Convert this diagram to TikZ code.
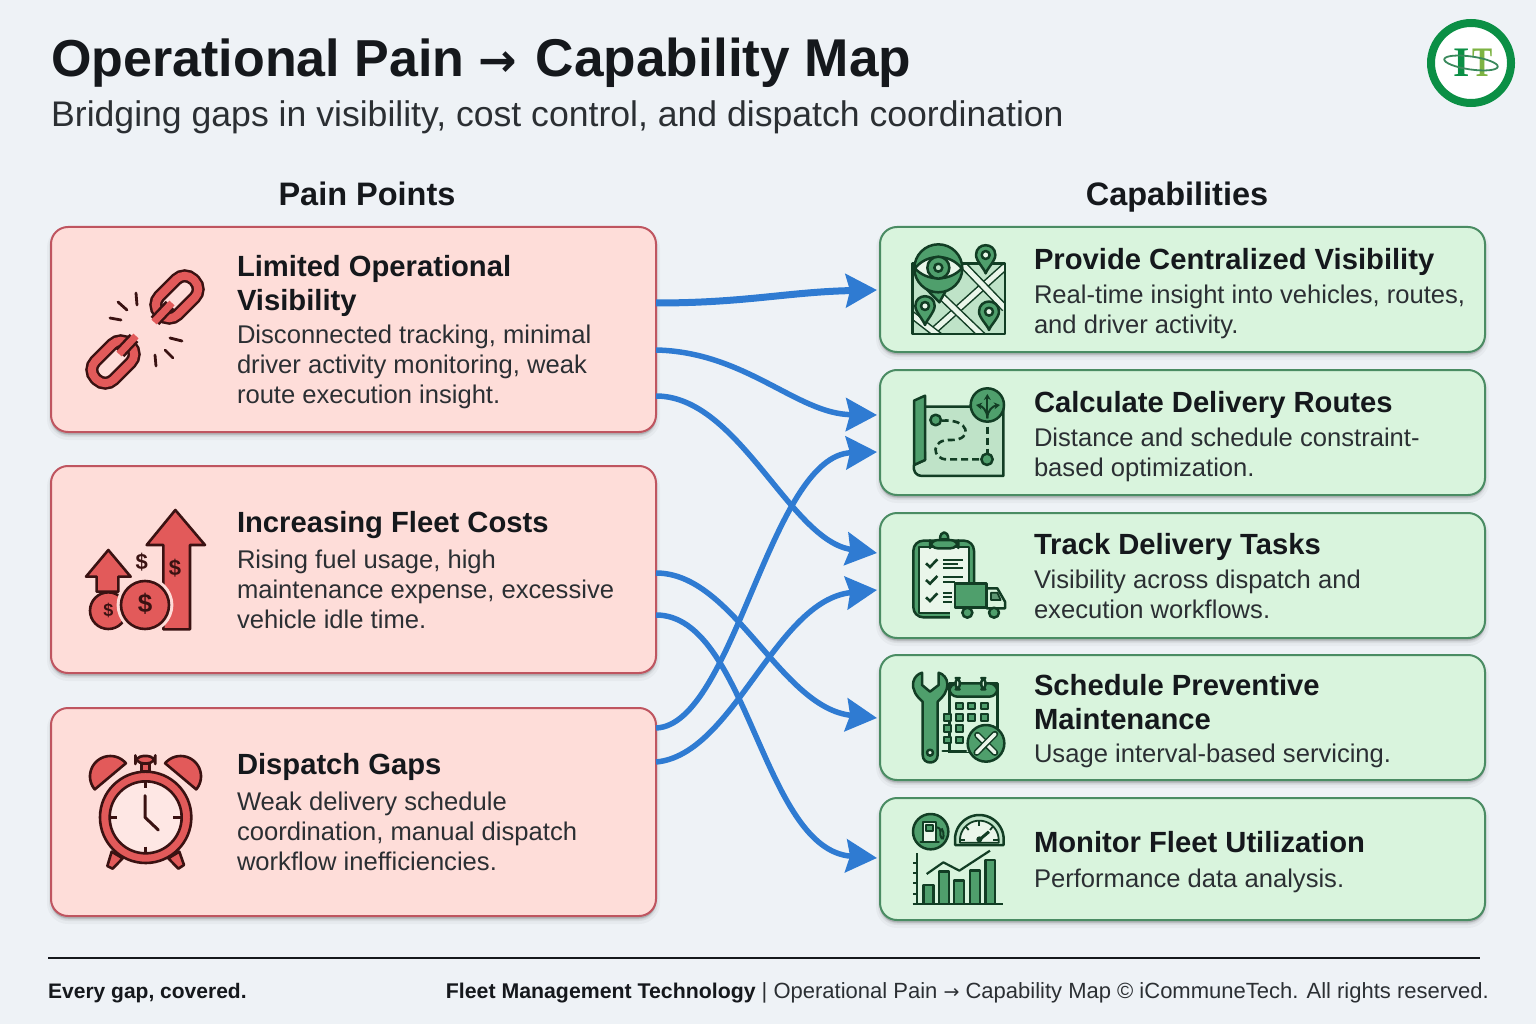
\documentclass[tikz,border=0pt]{standalone}
\usepackage{fontspec}
\setmainfont{Liberation Sans}
\newfontfamily\logofont{Liberation Serif}
\newfontfamily\arrowfont{DejaVu Sans}
\usetikzlibrary{arrows.meta,calc}
\definecolor{bgc}{HTML}{EEF2F6}
\definecolor{painfill}{HTML}{FEDDD9}
\definecolor{painline}{HTML}{BF5560}
\definecolor{capfill}{HTML}{D9F4DD}
\definecolor{capline}{HTML}{4A8C63}
\definecolor{flowc}{HTML}{2F7BD2}
\definecolor{inkd}{HTML}{15181C}
\definecolor{txtc}{HTML}{2B2F33}
\definecolor{rd}{HTML}{3A1212}
\definecolor{rf}{HTML}{E25A5A}
\definecolor{gd}{HTML}{123D24}
\definecolor{gf}{HTML}{4F9F6C}
\definecolor{gl}{HTML}{BFE3C8}
\definecolor{gp}{HTML}{EAF6EA}
\definecolor{logog}{HTML}{0B8F45}
\definecolor{logot}{HTML}{7DB343}
\tikzset{
 softshadow/.style={
  preaction={fill=black,fill opacity=.03,draw=black,draw opacity=.03,line width=8pt,transform canvas={yshift=-4pt}},
  preaction={fill=black,fill opacity=.05,draw=black,draw opacity=.05,line width=4pt,transform canvas={yshift=-3pt}},
  preaction={fill=black,fill opacity=.08,draw=black,draw opacity=.08,line width=1pt,transform canvas={yshift=-2pt}}},
 painbox/.style={softshadow,rectangle,rounded corners=17pt,draw=painline,fill=painfill,line width=2pt,minimum width=605pt,outer sep=0pt,inner sep=0pt},
 capbox/.style={softshadow,rectangle,rounded corners=17pt,draw=capline,fill=capfill,line width=2pt,minimum width=605pt,outer sep=0pt,inner sep=0pt},
 flow/.style={draw=flowc,line width=5.5pt,-{Stealth[length=31pt,width=33pt,inset=4pt]}},
 ttl/.style={anchor=north west,align=left,inner sep=0pt,outer sep=0pt,text=inkd,font=\fontsize{29.2}{34}\selectfont\bfseries},
 bdy/.style={anchor=north west,align=left,inner sep=0pt,outer sep=0pt,text=txtc,font=\fontsize{25.6}{30}\selectfont},
 hdr/.style={anchor=base,inner sep=0pt,text=inkd,font=\fontsize{32.5}{36}\selectfont\bfseries},
 zm/.style 2 args={shift={(#1,#2)},x=0.33333pt,y=-0.33333pt},
 ro/.style={draw=rd,line width=2.6pt,line join=round,line cap=round},
 go/.style={draw=gd,line width=2.5pt,line join=round,line cap=round},
 gthin/.style={draw=gd,line width=1.8pt,line join=round,line cap=round},
 money/.style={inner sep=0pt,font=\fontsize{#1}{#1}\selectfont\bfseries,text=rd},
 money/.default=22
}
\begin{document}
\begin{tikzpicture}[x=1pt,y=-1pt]
\useasboundingbox (0,0) rectangle (1536,1024);
\fill[bgc] (0,0) rectangle (1536,1024);

% heading
\node[anchor=base west,inner sep=0pt,text=inkd,font=\fontsize{52}{54}\selectfont\bfseries] (title) at (51,77) {Operational Pain {\arrowfont\fontsize{46}{46}\selectfont→}\hspace{4pt} {\fontsize{53.2}{54}\selectfont Capability Map}};
\node[anchor=base west,inner sep=0pt,text=txtc,font=\fontsize{35.6}{38}\selectfont] (subtitle) at (51,127) {Bridging gaps in visibility, cost control, and dispatch coordination};
\node[hdr] (hpain) at (367,206) {Pain Points};
\node[hdr] (hcap) at (1177,206) {Capabilities};

% logo
\draw[logog,line width=8pt,fill=white] (1471,63) circle[radius=40];
\node[inner sep=0pt,text=logog,font=\fontsize{42}{42}\selectfont\logofont\bfseries] (logoi) at (1461.5,63) {I};
\node[inner sep=0pt,text=logot,font=\fontsize{42}{42}\selectfont\logofont\bfseries] (logotee) at (1483,63) {\scalebox{0.72}[1]{T}};
\draw[logog!60!gray,line width=1.8pt,rotate around={-8:(1471,63)}] (1471,63) ellipse[x radius=27,y radius=6.5];

% boxes
\node[painbox,minimum height=205pt] (p1) at (353.5,329.5) {};
\node[painbox,minimum height=207pt] (p2) at (353.5,569.5) {};
\node[painbox,minimum height=208pt] (p3) at (353.5,812) {};
\node[capbox,minimum height=125pt] (c1) at (1182.5,289.5) {};
\node[capbox,minimum height=125pt] (c2) at (1182.5,432.5) {};
\node[capbox,minimum height=125pt] (c3) at (1182.5,575.5) {};
\node[capbox,minimum height=125pt] (c4) at (1182.5,717.5) {};
\node[capbox,minimum height=122pt] (c5) at (1182.5,859) {};

% pain texts
\node[ttl] (p1t) at (237,255) {Limited Operational\\Visibility};
\node[bdy] (p1b) at (237,325) {Disconnected tracking, minimal\\driver activity monitoring, weak\\route execution insight.};
\node[ttl] (p2t) at (237,511) {Increasing Fleet Costs};
\node[bdy] (p2b) at (237,550) {Rising fuel usage, high\\maintenance expense, excessive\\vehicle idle time.};
\node[ttl] (p3t) at (237,753) {Dispatch Gaps};
\node[bdy] (p3b) at (237,792) {Weak delivery schedule\\coordination, manual dispatch\\workflow inefficiencies.};

% capability texts
\node[ttl] (c1t) at (1034,248) {Provide Centralized Visibility};
\node[bdy] (c1b) at (1034,285) {Real-time insight into vehicles, routes,\\and driver activity.};
\node[ttl] (c2t) at (1034,391) {Calculate Delivery Routes};
\node[bdy] (c2b) at (1034,428) {Distance and schedule constraint-\\based optimization.};
\node[ttl] (c3t) at (1034,533) {Track Delivery Tasks};
\node[bdy] (c3b) at (1034,570) {Visibility across dispatch and\\execution workflows.};
\node[ttl] (c4t) at (1034,674) {Schedule Preventive\\Maintenance};
\node[bdy] (c4b) at (1034,744) {Usage interval-based servicing.};
\node[ttl] (c5t) at (1034,831) {Monitor Fleet Utilization};
\node[bdy] (c5b) at (1034,869) {Performance data analysis.};

% connectors
\draw[flow,line width=7pt] ([yshift=26.5pt]p1.east) .. controls +(90,0) and +(-90,2) .. ([xshift=-3pt,yshift=-0.5pt]c1.west);
\draw[flow] ([yshift=-20.5pt]p1.east) .. controls +(90,2) and +(-80,-1) .. ([xshift=-3pt,yshift=17.5pt]c2.west);
\draw[flow] ([yshift=-66.5pt]p1.east) .. controls +(83,0) and +(-87,-12) .. ([xshift=-3pt,yshift=22.5pt]c3.west);
\draw[flow] ([yshift=-3.5pt]p2.east) .. controls +(78,0) and +(-97,-10) .. ([xshift=-3pt,yshift=-0.5pt]c4.west);
\draw[flow] ([yshift=-45.5pt]p2.east) .. controls +(92,0) and +(-115,-8) .. ([xshift=-3pt,yshift=1pt]c5.west);
\draw[flow] ([yshift=84pt]p3.east) .. controls +(78,-3) and +(-107,3) .. ([xshift=-3pt,yshift=-19.5pt]c2.west);
\draw[flow] ([yshift=50pt]p3.east) .. controls +(78,-7) and +(-102,10) .. ([xshift=-3pt,yshift=-14.5pt]c3.west);

% icon: broken chain
\foreach \cx/\cy in {177/297,113/362}{
 \begin{scope}[shift={(\cx,\cy)},rotate=45]
  \draw[rd,line width=13pt,rounded corners=12pt] (-24,-13) rectangle (24,13);
  \draw[rf,line width=8pt,rounded corners=12pt] (-24,-13) rectangle (24,13);
 \end{scope}}
\draw[rd,line width=12pt] (170,305)--(155,321);
\draw[rf,line width=7pt] (172,303)--(154,322);
\draw[rd,line width=12pt] (134,338)--(120,353);
\draw[rf,line width=7pt] (136,336)--(119,354);
\foreach \ax/\ay/\bx/\by in {136/293/137/305,118/302/127/310,110/318/121/320,170/338/182/341,165/350/173/358,155/355/156/366}
 \draw[rd,line width=2.8pt,line cap=round] (\ax,\ay)--(\bx,\by);

% icon: rising costs
\begin{scope}[zm={50}{480}]
 \draw[ro,fill=rf] (376,90)--(465,195)--(420,195)--(420,448)--(340,448)--(340,195)--(290,195)--cycle;
 \draw[ro,fill=rf] (175,210)--(242,290)--(205,290)--(205,335)--(140,335)--(140,290)--(108,290)--cycle;
 \draw[ro,fill=rf] (175,392) circle[radius=55];
 \fill[painfill] (285,375) circle[radius=85];
 \draw[ro,fill=rf] (285,375) circle[radius=72];
 \node[money=26] (d1) at (285,372) {\$};
 \node[money=18] (d2) at (175,392) {\$};
 \node[money=22] (d3) at (275,245) {\$};
 \node[money=22] (d4) at (375,265) {\$};
\end{scope}

% icon: alarm clock
\begin{scope}[zm={50}{730}]
 \draw[ro,fill=rf] plot[domain=0:180,samples=30] ({181+61*cos(\x+140)},{139+61*sin(\x+140)}) -- cycle;
 \draw[ro,fill=rf] plot[domain=0:180,samples=30] ({392+61*cos(\x-140)},{139+61*sin(\x-140)}) -- cycle;
 \draw[ro,fill=rf] (185,365)--(172,408)--(188,416)--(218,385)--cycle;
 \draw[ro,fill=rf] (388,365)--(402,405)--(385,416)--(355,385)--cycle;
 \draw[ro,fill=rf] (275,100) rectangle (298,125);
 \draw[ro,fill=rf,rounded corners=8pt] (256,78) rectangle (316,100);
 \draw[ro,fill=rf] (287,262) circle[radius=137];
 \draw[ro,fill=painfill!70!white] (287,262) circle[radius=108];
 \foreach \ax/\ay/\bx/\by in {287/155/287/175,287/350/287/370,180/262/202/262,370/262/392/262}
  \draw[rd,line width=2.6pt] (\ax,\ay)--(\bx,\by);
 \draw[rd,line width=3pt,line cap=round,line join=round] (285,197)--(285,262)--(325,300);
\end{scope}

% icon: map with eye
\begin{scope}[zm={890}{230}]
 \fill[gl] (68,100) rectangle (345,312);
 \begin{scope}
  \clip (68,100) rectangle (345,312);
  \foreach \ax/\ay/\bx/\by in {345/110/120/312,215/100/345/235,150/195/280/320,60/250/150/320}{
   \draw[gd,line width=8pt] (\ax,\ay)--(\bx,\by);
   \draw[gp,line width=5pt] (\ax,\ay)--(\bx,\by);}
 \end{scope}
 \draw[go] (68,312) rectangle (345,100);
 \foreach \cx/\cy/\r/\ty in {287/75/29/130,105/228/29/285,297/245/30/300}{
  \draw[go,fill=gf] (\cx-\r,\cy) .. controls (\cx-\r,\cy-1.35*\r) and (\cx+\r,\cy-1.35*\r) .. (\cx+\r,\cy) .. controls (\cx+\r,\cy+0.6*\r) and (\cx+5,\ty-15) .. (\cx,\ty) .. controls (\cx-5,\ty-15) and (\cx-\r,\cy+0.6*\r) .. (\cx-\r,\cy)--cycle;
  \draw[go,fill=gp] (\cx,\cy) circle[radius=12];}
 \draw[go,fill=gf] (110,178) -- (148,217) -- (170,178) -- cycle;
 \draw[go,fill=gf] (145,115) circle[radius=72];
 \draw[go,fill=gp] (75,115) .. controls (110,70) and (180,70) .. (215,115) .. controls (180,155) and (110,155) .. (75,115)--cycle;
 \draw[go,fill=gf] (145,113) circle[radius=33];
 \draw[go,fill=gl] (145,113) circle[radius=12];
\end{scope}

% icon: route map
\begin{scope}[zm={890}{230}]
 \draw[go,fill=gl] (100,530)--(340,530)--(340,738)--(95,738) .. controls (78,738) and (68,722) .. (72,705)--(105,690)--cycle;
 \draw[go,fill=gf] (72,705)--(72,512)--(105,497)--(105,690)--cycle;
 \draw[gd,line width=2.6pt,dash pattern=on 7pt off 4pt] (155,572) .. controls (240,565) and (250,630) .. (185,630) .. controls (120,625) and (125,690) .. (172,688) -- (272,688);
 \draw[gd,line width=2.6pt,dash pattern=on 7pt off 4pt] (292,590)--(292,668);
 \draw[go,fill=gf] (137,570) circle[radius=16];
 \draw[go,fill=gf] (291,688) circle[radius=17];
 \draw[go,fill=gf] (292,525) circle[radius=50];
 \draw[gd,line width=2pt,-{Stealth[length=6pt,width=7pt]}] (292,565)--(292,492);
 \draw[gd,line width=2pt,-{Stealth[length=6pt,width=7pt]}] (292,565) .. controls (292,540) and (275,528) .. (258,525);
 \draw[gd,line width=2pt,-{Stealth[length=6pt,width=7pt]}] (292,565) .. controls (292,540) and (309,528) .. (330,525);
\end{scope}

% icon: clipboard and truck
\begin{scope}[zm={890}{520}]
 \draw[go,fill=gf,rounded corners=10pt] (70,62) rectangle (252,292);
 \draw[gthin,fill=gp] (86,80) rectangle (238,278);
 \draw[go,fill=gf,rounded corners=8pt] (120,85)--(120,60)--(205,60)--(205,85)--cycle;
 \draw[go,fill=gf] (150,58) .. controls (150,30) and (175,30) .. (175,58)--cycle;
 \foreach \y in {130,180,232}{
  \draw[gd,line width=2.6pt] (108,\y)--(120,\y+11)--(142,\y-12);}
 \foreach \ax/\ay/\bx in {160/120/220,160/132/205,160/145/220,160/172/220,160/185/195,160/220/185,160/232/185,160/245/185}
  \draw[gd,line width=1.8pt] (\ax,\ay)--(\bx,\ay);
 \fill[capfill] (180,250) rectangle (255,296);
 \draw[go,fill=gf] (195,190) rectangle (290,263);
 \draw[go,fill=capfill] (290,205)--(322,205)--(345,245)--(345,265)--(290,265)--cycle;
 \draw[gthin,fill=gf!70!gray] (303,218)--(322,218)--(332,240)--(303,240)--cycle;
 \draw[go,fill=gf] (232,278) circle[radius=15];
 \draw[go,fill=gf] (312,278) circle[radius=15];
\end{scope}

% icon: wrench and calendar
\begin{scope}[zm={890}{520}]
 \draw[go,fill=capfill] (178,700)--(178,490)--(322,490)--(322,700)--cycle;
 \draw[go,fill=gf,rounded corners=8pt] (178,530)--(178,490)--(322,490)--(322,530)--cycle;
 \foreach \x in {203,280}{\draw[go,fill=capfill,rounded corners=4pt] (\x-6,474) rectangle (\x+6,508);}
 \foreach \x/\y in {208/558,245/558,283/558,172/592,208/592,245/592,283/592,172/625,208/625,172/660,208/660}
  \draw[gthin,fill=gf] (\x-11,\y-10) rectangle (\x+11,\y+10);
 \fill[capfill] (150,700) rectangle (240,720);
 \draw[go] (158,693)--(228,693);
 \draw[go,fill=gf] (98,545) .. controls (80,530) and (65,510) .. (70,485) .. controls (74,470) and (84,462) .. (96,458)--(96,495)--(120,515)--(146,495)--(146,458) .. controls (160,462) and (172,475) .. (172,492) .. controls (172,515) and (160,530) .. (143,545)--(143,705) .. controls (143,735) and (98,735) .. (98,705)--cycle;
 \draw[go,fill=gp] (120,698) circle[radius=9];
 \draw[go,fill=gf] (288,670) circle[radius=55];
 \draw[gd,line width=6.5pt,line cap=round] (262,645)--(315,698);
 \draw[gp,line width=3.5pt,line cap=round] (262,645)--(315,698);
 \draw[gd,line width=6.5pt,line cap=round] (315,642)--(260,698);
 \draw[gp,line width=3.5pt,line cap=round] (315,642)--(260,698);
\end{scope}

% icon: fleet utilization
\begin{scope}[zm={890}{800}]
 \draw[go,fill=gf] (122,95) circle[radius=53];
 \draw[gthin,fill=gp] (100,65) rectangle (138,125);
 \draw[gthin,fill=gf] (108,75) rectangle (130,92);
 \draw[go] (92,126)--(146,126);
 \draw[gd,line width=2pt] (140,82) .. controls (160,85) and (145,105) .. (155,115) .. controls (160,122) and (165,100) .. (155,85);
 \draw[go,fill=gl] plot[domain=180:360,samples=30] ({268+73*cos(\x)},{118+73*sin(\x)}) -- (341,135) -- (195,135) -- cycle;
 \draw[gthin,fill=gp] plot[domain=180:360,samples=30] ({268+58*cos(\x)},{120+58*sin(\x)}) -- (326,128) -- (210,128) -- cycle;
 \foreach \ax/\ay/\bx/\by in {268/62/268/78,226/78/236/90,310/78/300/90,212/120/226/120,324/120/310/120}
  \draw[gd,line width=1.8pt] (\ax,\ay)--(\bx,\by);
 \draw[gd,line width=3pt] (265,122)--(297,95);
 \fill[gd] (268,118) circle[radius=9];
 \draw[gd,line width=2pt] (82,160)--(82,312);
 \foreach \y in {190,220,250,282}{\draw[gd,line width=1.8pt] (70,\y)--(82,\y);}
 \foreach \xa/\xb/\yt in {100/130/255,147/177/215,192/222/242,240/270/212,287/315/180}
  \draw[go,fill=gf] (\xa,312) rectangle (\xb,\yt);
 \draw[gd,line width=2.2pt,line join=round] (110,222)--(160,187)--(208,212)--(300,152);
 \draw[gd,line width=2.4pt] (68,312)--(340,312);
\end{scope}

% footer
\coordinate (fl) at (48,958);
\coordinate (fr) at (1480,958);
\draw[inkd,line width=1.4pt] (fl)--(fr);
\node[anchor=base west,inner sep=0pt,text=inkd,font=\fontsize{21}{26}\selectfont\bfseries] (tag) at (48,998) {Every gap, covered.};
\node[anchor=base east,inner sep=0pt,text=txtc,font=\fontsize{22}{26}\selectfont] (foot) at (1489,998) {{\fontsize{21.3}{26}\selectfont\bfseries\color{inkd}Fleet Management Technology} | Operational Pain {\arrowfont\fontsize{19}{19}\selectfont→} Capability Map © iCommuneTech. All rights reserved.};
\end{tikzpicture}
\end{document}
